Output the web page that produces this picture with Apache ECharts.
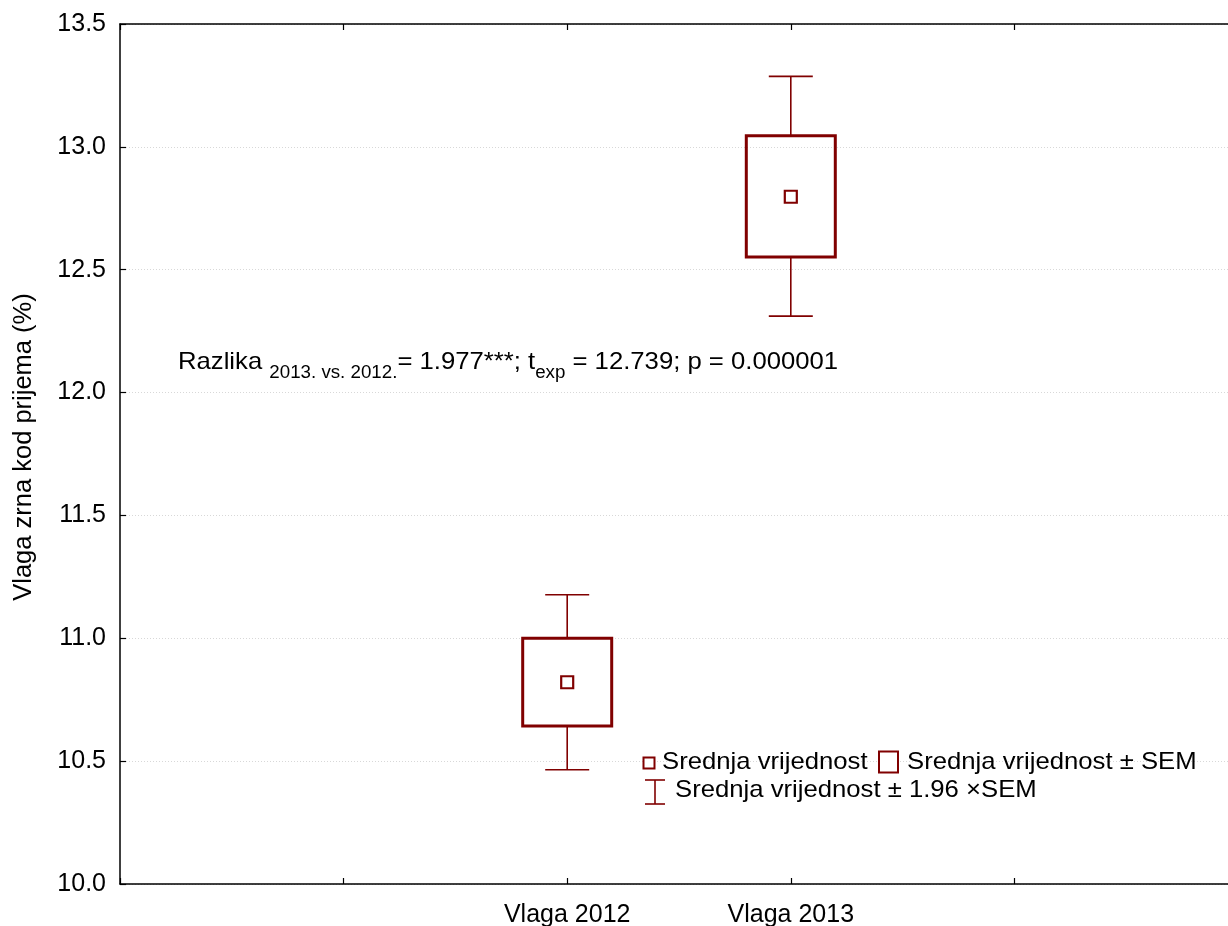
<!DOCTYPE html>
<html>
<head>
<meta charset="utf-8">
<script src="https://cdn.jsdelivr.net/npm/echarts@6/dist/echarts.min.js"></script>
<style>html,body{margin:0;padding:0;background:#fff}#c{width:1228px;height:926px}</style>
</head>
<body>
<div id="c"></div>
<script>
// Axis categories (padded slots so the two groups sit at the 3rd and 4th ticks)
const categories = ['', '', 'Vlaga 2012', 'Vlaga 2013', '', ''];
const groups = ['Vlaga 2012', 'Vlaga 2013'];
const means = [10.821, 12.797];
const semLow = [10.643, 12.552];
const semHigh = [11.0, 13.045];
const ciLow = [10.465, 12.311];
const ciHigh = [11.177, 13.287];
const yTicks = [10.0, 10.5, 11.0, 11.5, 12.0, 12.5, 13.0, 13.5];

const COLOR = '#800000';
const FONT = 'Liberation Sans, Arial, sans-serif';

const data = groups.map((g, i) => [categories.indexOf(g), means[i], semLow[i], semHigh[i], ciLow[i], ciHigh[i]]);

const chart = echarts.init(document.getElementById('c'), null, {renderer: 'canvas'});

function renderItem(params, api) {
  const x = api.value(0);
  const pMean = api.coord([x, api.value(1)]);
  const pSL = api.coord([x, api.value(2)]);
  const pSH = api.coord([x, api.value(3)]);
  const pCL = api.coord([x, api.value(4)]);
  const pCH = api.coord([x, api.value(5)]);
  const cx = pMean[0];
  const bw = 44.5, cw = 22, mk = 6;
  const thin = {stroke: COLOR, lineWidth: 1.6, fill: null};
  const thick = {stroke: COLOR, lineWidth: 3, fill: 'transparent'};
  return {
    type: 'group',
    children: [
      {type: 'line', shape: {x1: cx, y1: pSH[1], x2: cx, y2: pCH[1]}, style: thin},
      {type: 'line', shape: {x1: cx, y1: pSL[1], x2: cx, y2: pCL[1]}, style: thin},
      {type: 'line', shape: {x1: cx - cw, y1: pCH[1], x2: cx + cw, y2: pCH[1]}, style: thin},
      {type: 'line', shape: {x1: cx - cw, y1: pCL[1], x2: cx + cw, y2: pCL[1]}, style: thin},
      {type: 'rect', shape: {x: cx - bw, y: pSH[1], width: 2 * bw, height: pSL[1] - pSH[1]}, style: thick},
      {type: 'rect', shape: {x: cx - mk, y: pMean[1] - mk, width: 2 * mk, height: 2 * mk}, style: {stroke: COLOR, lineWidth: 2.2, fill: 'transparent'}}
    ]
  };
}

const axisLine = {show: true, lineStyle: {color: '#000', width: 1.5}};
const axisTick = {show: true, inside: true, length: 6, lineStyle: {color: '#000', width: 1.2}};

const option = {
  animation: false,
  backgroundColor: '#fff',
  grid: {left: 120, top: 24, width: 1118, height: 860, containLabel: false, outerBoundsMode: 'none'},
  xAxis: [
    {
      type: 'category', data: categories, boundaryGap: false, position: 'bottom',
      axisLine, axisTick: Object.assign({alignWithLabel: true, interval: 0}, axisTick),
      axisLabel: {interval: 0, color: '#000', fontFamily: FONT, fontSize: 25, margin: 19},
      splitLine: {show: false}
    },
    {
      type: 'category', data: categories, boundaryGap: false, position: 'top',
      axisLine, axisTick: Object.assign({interval: 0}, axisTick),
      axisLabel: {show: false}, splitLine: {show: false}
    }
  ],
  yAxis: {
    type: 'value', min: yTicks[0], max: yTicks[yTicks.length - 1], interval: 0.5,
    axisLine, axisTick,
    axisLabel: {color: '#000', fontFamily: FONT, fontSize: 25, margin: 14, formatter: v => v.toFixed(1)},
    splitLine: {show: true, lineStyle: {color: '#d8d8d8', type: [1, 2], width: 1}}
  },
  series: [{
    type: 'custom',
    renderItem,
    encode: {x: 0, y: [1, 2, 3, 4, 5]},
    data,
    clip: false,
    z: 10
  }],
  graphic: [
    // y axis title
    {
      type: 'text', x: 24, y: 447, rotation: Math.PI / 2, z: 20,
      style: {x: 0, y: 0, text: 'Vlaga zrna kod prijema (%)', fontFamily: FONT, fontSize: 25.5, fill: '#000', align: 'center', verticalAlign: 'middle'}
    },
    // annotation
    {
      type: 'text', x: 178, y: 344.5, scaleX: 1.07, z: 20,
      style: {
        x: 0, y: 0, align: 'left', verticalAlign: 'top',
        text: '{m|Razlika }{s|2013. vs. 2012.}{m|= 1.977***; t}{s|exp}{m| = 12.739; p = 0.000001}',
        rich: {
          m: {fontFamily: FONT, fontSize: 24, fill: '#000', verticalAlign: 'bottom', lineHeight: 30},
          s: {fontFamily: FONT, fontSize: 17.5, fill: '#000', verticalAlign: 'bottom', lineHeight: 30, padding: [0, 0, -8, 0]}
        }
      }
    },
    // legend row 1
    {type: 'rect', z: 20, shape: {x: 643.5, y: 757.5, width: 11, height: 11}, style: {stroke: COLOR, lineWidth: 2, fill: '#fff'}},
    {type: 'text', z: 20, x: 662, y: 762.5, scaleX: 1.07, style: {x: 0, y: 0, text: 'Srednja vrijednost', fontFamily: FONT, fontSize: 24, fill: '#000', verticalAlign: 'middle'}},
    {type: 'rect', z: 20, shape: {x: 879, y: 751.5, width: 19, height: 21}, style: {stroke: COLOR, lineWidth: 2, fill: '#fff'}},
    {type: 'text', z: 20, x: 907, y: 762.5, scaleX: 1.07, style: {x: 0, y: 0, text: 'Srednja vrijednost ± SEM', fontFamily: FONT, fontSize: 24, fill: '#000', verticalAlign: 'middle'}},
    // legend row 2
    {type: 'line', z: 20, shape: {x1: 655, y1: 780, x2: 655, y2: 804}, style: {stroke: COLOR, lineWidth: 1.6}},
    {type: 'line', z: 20, shape: {x1: 645, y1: 780, x2: 665, y2: 780}, style: {stroke: COLOR, lineWidth: 1.6}},
    {type: 'line', z: 20, shape: {x1: 645, y1: 804, x2: 665, y2: 804}, style: {stroke: COLOR, lineWidth: 1.6}},
    {type: 'text', z: 20, x: 675, y: 790.5, scaleX: 1.07, style: {x: 0, y: 0, text: 'Srednja vrijednost ± 1.96 ×SEM', fontFamily: FONT, fontSize: 24, fill: '#000', verticalAlign: 'middle'}}
  ]
};
chart.setOption(option);
</script>
</body>
</html>
